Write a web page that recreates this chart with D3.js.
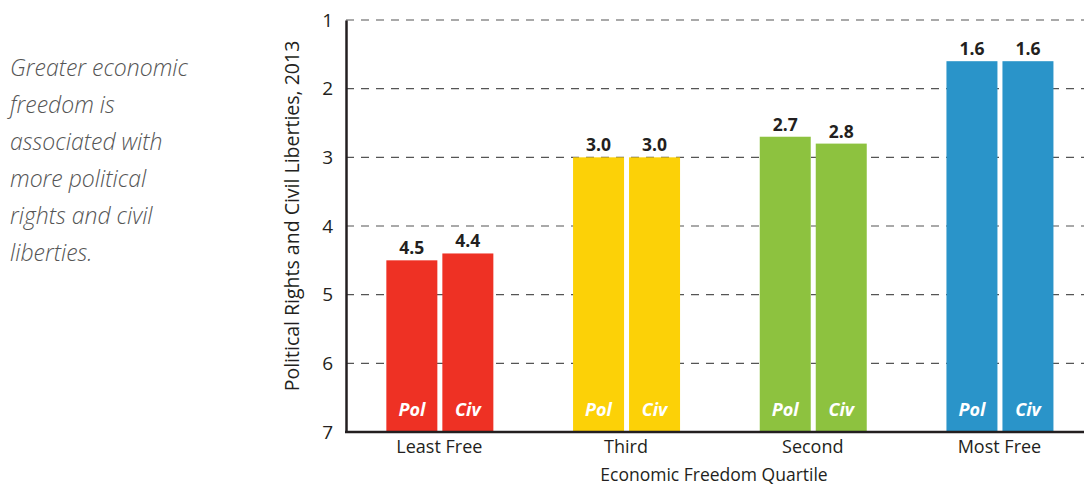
<!DOCTYPE html>
<html>
<head>
<meta charset="utf-8">
<script src="https://cdnjs.cloudflare.com/ajax/libs/d3/7.8.5/d3.min.js"></script>
<style>
  body { margin: 0; background: #fff; }
  svg { display: block; font-family: "Open Sans", sans-serif; }
</style>
</head>
<body>
<script>
// data
var quartiles = ["Least Free", "Third", "Second", "Most Free"];
var polValues = [4.5, 3.0, 2.7, 1.6];
var civValues = [4.4, 3.0, 2.8, 1.6];
var colors = ["#ee3124", "#fcd107", "#8dc23f", "#2a94c9"];
var yTicks = [1, 2, 3, 4, 5, 6, 7];
var note = ["Greater economic", "freedom is", "associated with", "more political", "rights and civil", "liberties."];

var W = 1084, H = 486;
var plotLeft = 346, plotTop = 20, plotBottom = 432;

var svg = d3.select("body").append("svg")
  .attr("width", W)
  .attr("height", H);

var x = d3.scaleBand().domain(quartiles).range([plotLeft, plotLeft + 4 * 186.7]);
var y = d3.scaleLinear().domain([1, 7]).range([plotTop, plotBottom]);

// dashed grid
svg.append("g")
  .selectAll("line")
  .data(yTicks.slice(0, 6))
  .enter().append("line")
  .attr("x1", plotLeft).attr("x2", W)
  .attr("y1", function(d) { return y(d); })
  .attr("y2", function(d) { return y(d); })
  .attr("stroke", "#555")
  .attr("stroke-width", 1.2)
  .attr("stroke-dasharray", "8,7");

// bars
var series = [
  { key: "Pol", vals: polValues, dx: -53 },
  { key: "Civ", vals: civValues, dx: 3 }
];
var bw = 51;

series.forEach(function(s) {
  var g = svg.append("g");
  quartiles.forEach(function(q, i) {
    var bx = x(q) + x.bandwidth() / 2 + s.dx;
    g.append("rect")
      .attr("x", bx)
      .attr("y", y(s.vals[i]))
      .attr("width", bw)
      .attr("height", y(7) - y(s.vals[i]))
      .attr("fill", colors[i]);
    g.append("text")
      .attr("x", bx + bw / 2)
      .attr("y", y(s.vals[i]) - 6)
      .attr("text-anchor", "middle")
      .attr("font-size", 17.5)
      .attr("font-weight", "bold")
      .attr("fill", "#231f20")
      .text(s.vals[i].toFixed(1));
    g.append("text")
      .attr("x", bx + bw / 2)
      .attr("y", 416)
      .attr("text-anchor", "middle")
      .attr("font-size", 18)
      .attr("font-weight", "bold")
      .attr("font-style", "italic")
      .attr("fill", "#fff")
      .text(s.key);
  });
});

// axes
var yAxis = d3.axisLeft(y).tickValues(yTicks).tickSize(0).tickPadding(13).tickFormat(d3.format("d"));
var ga = svg.append("g").attr("transform", "translate(" + plotLeft + ",0)").call(yAxis);
ga.select(".domain").attr("stroke", "#231f20").attr("stroke-width", 2.5);
ga.selectAll("text").attr("font-size", 19).attr("fill", "#231f20").attr("font-family", "Open Sans");

var xAxis = d3.axisBottom(x).tickSize(0).tickPadding(8);
var gx = svg.append("g").attr("transform", "translate(0," + plotBottom + ")").call(xAxis);
gx.select(".domain").remove();
gx.selectAll("text").attr("font-size", 18).attr("fill", "#231f20").attr("font-family", "Open Sans");
svg.append("line")
  .attr("x1", plotLeft - 1).attr("x2", W)
  .attr("y1", plotBottom).attr("y2", plotBottom)
  .attr("stroke", "#231f20").attr("stroke-width", 2.5);

svg.append("text")
  .attr("transform", "translate(299,216) rotate(-90)")
  .attr("text-anchor", "middle")
  .attr("font-size", 19.5)
  .attr("fill", "#231f20")
  .text("Political Rights and Civil Liberties, 2013");

svg.append("text")
  .attr("x", 714).attr("y", 481)
  .attr("text-anchor", "middle")
  .attr("font-size", 17.5)
  .attr("fill", "#231f20")
  .text("Economic Freedom Quartile");

// side note
svg.append("g").selectAll("text")
  .data(note)
  .enter().append("text")
  .attr("x", 10)
  .attr("y", function(d, i) { return 76 + i * 37; })
  .attr("font-size", 23)
  .attr("font-style", "italic")
  .attr("font-weight", 300)
  .attr("fill", "#555")
  .text(function(d) { return d; });
</script>
</body>
</html>
